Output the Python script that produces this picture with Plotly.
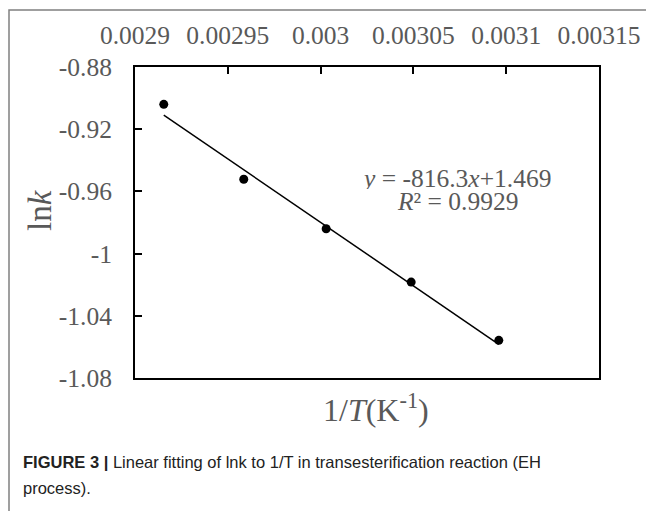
import plotly.graph_objects as go

# data
inv_T = [0.0029155, 0.0029586, 0.0030030, 0.0030488, 0.0030960]
ln_k = [-0.9040, -0.9522, -0.9840, -1.0183, -1.0558]
trend_x = [0.0029155, 0.0030960]
trend_y = [-0.9109, -1.0583]
x_ticks = [0.0029, 0.00295, 0.0030, 0.00305, 0.0031, 0.00315]
x_ticktext = ["0.0029", "0.00295", "0.003", "0.00305", "0.0031", "0.00315"]
y_ticks = [-0.88, -0.92, -0.96, -1.00, -1.04, -1.08]
y_ticktext = ["-0.88", "-0.92", "-0.96", "-1", "-1.04", "-1.08"]

OFF = 8  # page body margin
W, H = 654 - OFF, 511 - OFF
# plot frame in screen pixels
SL, SR, ST, SB = 135, 599, 67, 378
L, R, T, B = SL - OFF, SR - OFF, ST - OFF, SB - OFF
def px(x): return (x - SL) / (SR - SL)   # screen px -> paper
def py(y): return (SB - y) / (SB - ST)

serif = "Liberation Serif, Times New Roman, serif"
sans = "Liberation Sans Narrow, Arial Narrow, Liberation Sans, sans-serif"
grey = "#595959"
fs = 25.5

fig = go.Figure()
fig.add_trace(go.Scatter(x=trend_x, y=trend_y, mode="lines",
                         line=dict(color="black", width=1.5), showlegend=False))
fig.add_trace(go.Scatter(x=inv_T, y=ln_k, mode="markers",
                         marker=dict(color="black", size=9), showlegend=False))

def ann(x, y, text, size, **kw):
    d = dict(xref="paper", yref="paper", x=px(x), y=py(y), showarrow=False,
             xanchor="center", yanchor="middle", text=text,
             font=dict(size=size, color=grey, family=serif))
    d.update(kw)
    return d

cap_font = dict(size=16.5, color="#222222", family=sans)

fig.update_layout(
    width=W, height=H,
    margin=dict(l=L, r=W - R, t=T, b=H - B, autoexpand=False),
    paper_bgcolor="white", plot_bgcolor="white",
    font=dict(family=serif, color=grey, size=fs),
    xaxis=dict(side="top", range=[0.0029, 0.00315], tickvals=x_ticks, ticktext=x_ticktext,
               ticks="inside", ticklen=7, tickwidth=2, tickcolor="black",
               showline=True, linecolor="black", linewidth=2, mirror=True,
               showgrid=False, zeroline=False, ticklabelstandoff=11, automargin=False,
               tickfont=dict(family=serif, color=grey, size=fs)),
    yaxis=dict(range=[-1.08, -0.88], tickvals=y_ticks, ticktext=y_ticktext,
               ticks="inside", ticklen=7, tickwidth=2, tickcolor="black",
               showline=True, linecolor="black", linewidth=2, mirror=True,
               showgrid=False, zeroline=False, ticklabelstandoff=16, automargin=False,
               tickfont=dict(family=serif, color=grey, size=fs)),
    shapes=[dict(type="rect", xref="paper", yref="paper",
                 x0=px(9), x1=px(700), y0=py(10), y1=py(560),
                 line=dict(color="#808080", width=1.5))],
    annotations=[
        ann(456, 178, "<i>y</i> = -816.3<i>x</i>+1.469", fs, height=22),
        ann(457, 201, "<i>R</i>² = 0.9929", fs, height=22),
        ann(376, 408, "1/<i>T</i>(K<sup>-1</sup>)", 32),
        ann(40, 210, "ln<i>k</i>", 33, textangle=-90),
        dict(xref="paper", yref="paper", x=px(21), y=py(462), xanchor="left", yanchor="middle",
             showarrow=False, align="left", font=cap_font,
             text="<b>FIGURE 3 |</b> Linear fitting of lnk to 1/T in transesterification reaction (EH"),
        dict(xref="paper", yref="paper", x=px(21), y=py(488), xanchor="left", yanchor="middle",
             showarrow=False, align="left", font=cap_font,
             text="process)."),
    ],
)

fig.write_html("out.html")
